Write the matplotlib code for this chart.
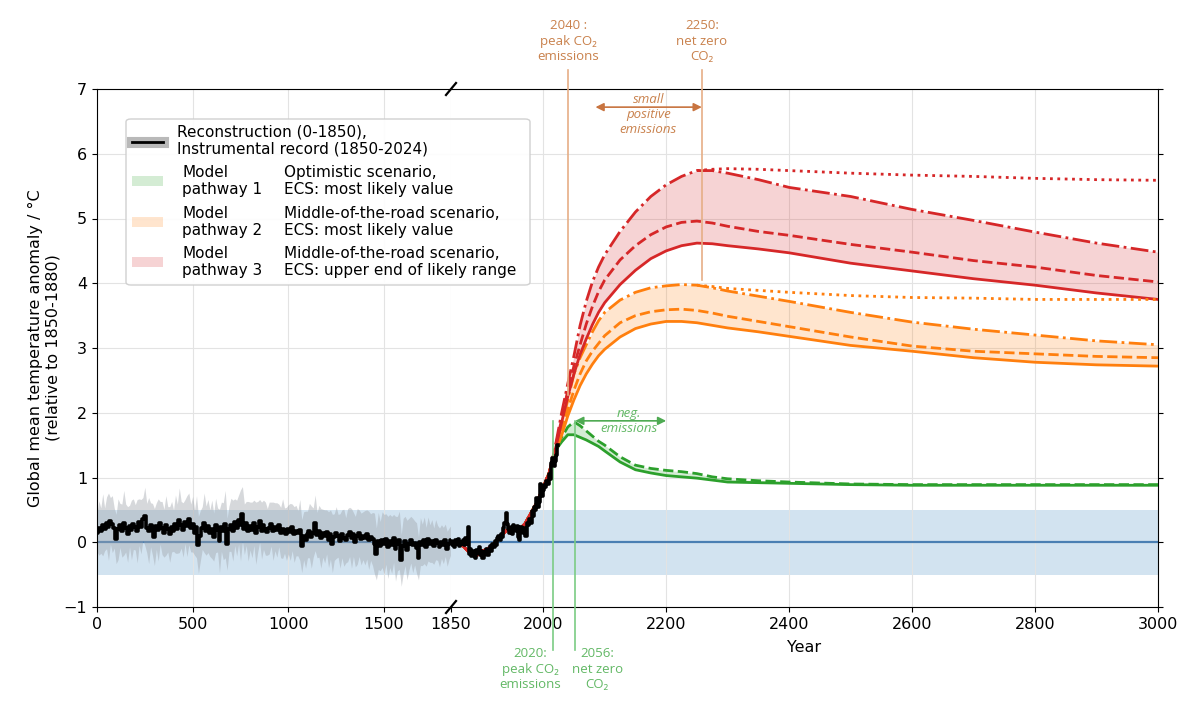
import numpy as np
import matplotlib.pyplot as plt
from matplotlib.patches import FancyBboxPatch, Rectangle
from matplotlib.lines import Line2D

# reconstruction 0-1850 (10-year steps) and its uncertainty half-width
recon_years = np.arange(0, 1851, 10)
recon = [0.15, 0.22, 0.18, 0.27, 0.20, 0.30, 0.24, 0.33, 0.28, 0.22,
         0.05, 0.20, 0.26, 0.18, 0.30, 0.22, 0.12, 0.25, 0.19, 0.28,
         0.23, 0.17, 0.31, 0.24, 0.36, 0.40, 0.22, 0.18, 0.27, 0.20,
         0.08, 0.25, 0.19, 0.30, 0.22, 0.14, 0.26, 0.20, 0.12, 0.24,
         0.18, 0.28, 0.21, 0.34, 0.27, 0.19, 0.32, 0.25, 0.36, 0.22,
         0.28, 0.15, 0.24, -0.04, 0.10, 0.22, 0.30, 0.18, 0.25, 0.14,
         0.20, 0.08, 0.26, 0.19, 0.02, 0.24, 0.17, 0.28, -0.03, 0.21,
         0.27, 0.18, 0.31, 0.22, 0.35, 0.26, 0.44, 0.20, 0.29, 0.17,
         0.25, 0.19, 0.30, 0.14, 0.24, 0.33, 0.18, 0.27, 0.21, 0.16,
         0.22, 0.28, 0.17, 0.24, 0.19, 0.26, 0.15, 0.21, 0.18, 0.13,
         0.20, 0.16, 0.23, 0.12, 0.18, 0.14, 0.19, -0.06, 0.10, 0.04,
         0.12, 0.18, 0.08, 0.15, 0.30, 0.11, 0.17, 0.06, 0.14, 0.09,
         0.16, 0.04, 0.12, -0.02, 0.08, 0.15, 0.10, 0.02, 0.13, 0.07,
         0.03, 0.11, 0.16, 0.06, 0.12, 0.01, 0.09, 0.14, 0.05, 0.10,
         0.07, 0.12, 0.03, 0.08, 0.05, -0.02, -0.18, 0.02, -0.06, 0.04,
         -0.03, 0.05, -0.08, 0.02, -0.04, 0.06, -0.10, -0.02, 0.03, -0.28,
         -0.06, 0.02, -0.12, -0.03, 0.04, -0.05, -0.01, -0.09, -0.25, 0.01,
         -0.04, 0.03, -0.07, 0.05, -0.02, 0.02, -0.06, 0.04, -0.01, -0.08,
         0.01, -0.05, 0.03, -0.10, -0.02, 0.04]
spread = [0.30, 0.42, 0.35, 0.48, 0.33, 0.40, 0.52, 0.36, 0.44, 0.31,
          0.38, 0.47, 0.34, 0.41, 0.50, 0.37, 0.43, 0.32, 0.46, 0.39,
          0.35, 0.49, 0.36, 0.42, 0.33, 0.45, 0.38, 0.51, 0.34, 0.40,
          0.44, 0.36, 0.48, 0.33, 0.41, 0.37, 0.46, 0.35, 0.43, 0.39,
          0.32, 0.45, 0.38, 0.50, 0.36, 0.42, 0.34, 0.47, 0.40, 0.37,
          0.43, 0.35, 0.48, 0.44, 0.39, 0.33, 0.46, 0.38, 0.41, 0.36,
          0.45, 0.37, 0.42, 0.34, 0.49, 0.38, 0.44, 0.52, 0.40, 0.35,
          0.41, 0.47, 0.36, 0.43, 0.38, 0.55, 0.42, 0.39, 0.34, 0.46,
          0.37, 0.43, 0.35, 0.48, 0.39, 0.33, 0.44, 0.38, 0.41, 0.36,
          0.40, 0.34, 0.45, 0.37, 0.42, 0.33, 0.39, 0.46, 0.35, 0.41,
          0.38, 0.44, 0.36, 0.43, 0.39, 0.35, 0.47, 0.41, 0.37, 0.44,
          0.36, 0.42, 0.48, 0.38, 0.43, 0.35, 0.40, 0.46, 0.37, 0.41,
          0.34, 0.43, 0.38, 0.45, 0.36, 0.40, 0.33, 0.42, 0.37, 0.44,
          0.35, 0.41, 0.38, 0.46, 0.34, 0.39, 0.43, 0.36, 0.40, 0.37,
          0.42, 0.38, 0.45, 0.36, 0.41, 0.47, 0.40, 0.44, 0.38, 0.43,
          0.46, 0.39, 0.48, 0.41, 0.44, 0.37, 0.50, 0.42, 0.45, 0.40,
          0.43, 0.38, 0.46, 0.40, 0.36, 0.42, 0.34, 0.39, 0.33, 0.37,
          0.32, 0.36, 0.30, 0.34, 0.29, 0.33, 0.28, 0.31, 0.27, 0.30,
          0.26, 0.28, 0.25, 0.27, 0.24, 0.22]

# instrumental record 1850-2024 (2-year steps)
inst_years = np.arange(1850, 2025, 2)
inst = [0.02, -0.05, 0.00, -0.08, 0.04, -0.02, 0.05, -0.06, 0.01, -0.03,
        0.03, -0.04, 0.06, -0.02, 0.24, -0.18, -0.10, -0.22, -0.14, -0.20,
        -0.25, -0.12, -0.16, -0.08, -0.20, -0.13, -0.24, -0.15, -0.18, -0.10,
        -0.20, -0.12, -0.06, -0.14, -0.02, -0.08, 0.02, -0.04, 0.06, 0.10,
        0.04, 0.12, 0.08, 0.22, 0.30, 0.45, 0.28, 0.20, 0.15, 0.24,
        0.12, 0.26, 0.22, 0.18, 0.25, 0.08, 0.04, 0.24, 0.18, 0.15,
        0.22, 0.10, 0.30, 0.26, 0.36, 0.30, 0.48, 0.40, 0.55, 0.50,
        0.68, 0.55, 0.62, 0.90, 0.72, 0.80, 0.88, 0.85, 0.95, 0.90,
        1.05, 0.98, 1.22, 1.30, 1.18, 1.25, 1.35, 1.50]

# model pathways
hist_years = [1850, 1860, 1870, 1880, 1890, 1900, 1910, 1920, 1930,
              1940, 1950, 1960, 1970, 1980, 1990, 2000, 2010]
hist_model = [0.0, -0.03, -0.06, -0.16, -0.22, -0.14, -0.10, -0.02, 0.08,
              0.18, 0.22, 0.20, 0.28, 0.45, 0.62, 0.85, 1.08]
fut_years = [2020, 2030, 2040, 2050, 2060, 2070, 2080, 2090, 2100, 2125,
             2150, 2175, 2200, 2225, 2250, 2275, 2300, 2350, 2400, 2500,
             2600, 2700, 2800, 2900, 3000]

p1_solid = [1.42, 1.55, 1.66, 1.66, 1.62, 1.58, 1.53, 1.48, 1.41, 1.24,
            1.12, 1.07, 1.03, 1.01, 0.99, 0.96, 0.93, 0.92, 0.91, 0.89,
            0.88, 0.88, 0.88, 0.88, 0.88]
p1_dash = [1.45, 1.62, 1.78, 1.86, 1.80, 1.72, 1.64, 1.56, 1.50, 1.32,
           1.19, 1.14, 1.11, 1.09, 1.06, 1.01, 0.98, 0.95, 0.93, 0.90,
           0.89, 0.89, 0.89, 0.89, 0.89]

p2_solid = [1.40, 1.65, 1.95, 2.20, 2.42, 2.60, 2.75, 2.88, 2.98, 3.17,
            3.30, 3.37, 3.41, 3.41, 3.39, 3.35, 3.31, 3.25, 3.18, 3.04,
            2.95, 2.85, 2.78, 2.74, 2.72]
p2_dash = [1.42, 1.72, 2.05, 2.35, 2.60, 2.80, 2.95, 3.07, 3.19, 3.39,
           3.50, 3.56, 3.59, 3.60, 3.58, 3.54, 3.49, 3.41, 3.33, 3.17,
           3.03, 2.95, 2.91, 2.87, 2.85]
p2_dashdot = [1.45, 1.80, 2.20, 2.60, 2.85, 3.05, 3.25, 3.42, 3.55, 3.74,
              3.86, 3.93, 3.96, 3.98, 3.97, 3.93, 3.88, 3.80, 3.72, 3.55,
              3.40, 3.29, 3.20, 3.11, 3.05]

p3_solid = [1.45, 1.85, 2.25, 2.60, 2.90, 3.14, 3.36, 3.55, 3.70, 3.98,
            4.20, 4.38, 4.50, 4.58, 4.62, 4.61, 4.58, 4.53, 4.47, 4.31,
            4.19, 4.07, 3.97, 3.85, 3.75]
p3_dash = [1.48, 1.90, 2.35, 2.72, 3.05, 3.37, 3.64, 3.87, 4.05, 4.36,
           4.58, 4.75, 4.87, 4.94, 4.96, 4.93, 4.88, 4.80, 4.74, 4.60,
           4.48, 4.35, 4.25, 4.12, 4.02]
p3_dashdot = [1.50, 2.00, 2.45, 2.88, 3.35, 3.72, 4.02, 4.25, 4.44, 4.80,
              5.10, 5.34, 5.52, 5.65, 5.74, 5.74, 5.70, 5.60, 5.48, 5.34,
              5.14, 4.97, 4.79, 4.62, 4.48]

dot_years = [2250, 2275, 2300, 2350, 2400, 2500, 2600, 2700, 2800, 2900, 3000]
p2_dotted = [3.97, 3.95, 3.92, 3.89, 3.86, 3.81, 3.78, 3.77, 3.75, 3.75, 3.75]
p3_dotted = [5.74, 5.76, 5.77, 5.76, 5.74, 5.70, 5.67, 5.65, 5.62, 5.60, 5.59]

W, H = 1200, 724
fig = plt.figure(figsize=(12, 7.24), dpi=100)
plt.rcParams['font.size'] = 11


def fx(x):
    return x / W


def fy(y):
    return 1 - y / H


ax1 = fig.add_axes([fx(97), fy(607), (451 - 97) / W, (607 - 89) / H])
ax2 = fig.add_axes([fx(451), fy(607), (1158 - 451) / W, (607 - 89) / H])

for ax, lim in [(ax1, (0, 1850)), (ax2, (1850, 3000))]:
    ax.set_xlim(*lim)
    ax.set_ylim(-1, 7)
    ax.fill_between(lim, -0.5, 0.5, color='tab:blue', alpha=0.2, lw=0, zorder=0)
    ax.axhline(0, color='#4a7fb3', lw=1.6, zorder=1)
    ax.grid(True, color='#e3e3e3', lw=0.8)
    ax.set_axisbelow(True)
    ax.tick_params(labelsize=11.5)

ax1.set_xticks([0, 500, 1000, 1500, 1850])
ax1.set_yticks(range(-1, 8))
ax1.spines['right'].set_visible(False)
ax2.set_xticks(range(2000, 3001, 200))
ax2.set_yticks(range(-1, 8))
ax2.spines['left'].set_visible(False)
ax2.tick_params(left=False, labelleft=False, right=True, labelright=False)
ax2.set_xlabel('Year', fontsize=11.5, labelpad=6)
ax1.set_ylabel('Global mean temperature anomaly / °C\n(relative to 1850-1880)',
               fontsize=11.5, labelpad=2)

# reconstruction
rec = np.array(recon)
spr = np.array(spread)
ax1.fill_between(recon_years, rec - spr, rec + spr, color='#9ea3aa', alpha=0.42, lw=0, zorder=2)
ax1.plot(recon_years, recon, color='black', lw=2.6, drawstyle='steps-mid', zorder=5)

# model pathways
def full(vals):
    return hist_years + fut_years, hist_model + vals


paths = [('tab:green', p1_solid, p1_dash, None),
         ('tab:orange', p2_solid, p2_dash, p2_dashdot),
         ('tab:red', p3_solid, p3_dash, p3_dashdot)]
for col, solid, dash, dashdot in paths:
    xs, ys = full(solid)
    top = dashdot if dashdot is not None else dash
    ax2.fill_between(xs, ys, full(top)[1], color=col, alpha=0.2, lw=0, zorder=2)
    ax2.plot(xs, ys, color=col, lw=2, zorder=3)
    ax2.plot(*full(dash), color=col, lw=2, ls='--', zorder=3)
    if dashdot is not None:
        ax2.plot(*full(dashdot), color=col, lw=2, ls='-.', zorder=3)
ax2.plot(dot_years, p2_dotted, color='tab:orange', lw=2, ls=':', zorder=3)
ax2.plot(dot_years, p3_dotted, color='tab:red', lw=2, ls=':', zorder=3)

ax2.plot(inst_years, inst, color='black', lw=2.6, drawstyle='steps-mid', zorder=5)

# axis break marks
for yy in (607, 89):
    fig.add_artist(Line2D([fx(446), fx(456)], [fy(yy + 6), fy(yy - 6)],
                          color='black', lw=1.6, transform=fig.transFigure))

# annotations
oc_txt = '#c9814c'
oc_line = '#e6ae86'
gc_txt = '#62b865'
gc_line = '#7ccc84'
afont = dict(family=['Open Sans', 'DejaVu Sans'], fontsize=9.5)

for yr, lo in [(2041, 2.27), (2258, 4.05)]:
    ax2.plot([yr, yr], [lo, 7.29], color=oc_line, lw=1.2, clip_on=False, zorder=4)
ax2.text(2041, 7.74, '2040 :\npeak CO₂\nemissions', color=oc_txt, ha='center',
         va='center', linespacing=1.25, **afont)
ax2.text(2258, 7.74, '2250:\nnet zero\nCO₂', color=oc_txt, ha='center',
         va='center', linespacing=1.25, **afont)
ax2.annotate('', xy=(2258, 6.72), xytext=(2085, 6.72),
             arrowprops=dict(arrowstyle='<|-|>', color='#c87440', lw=1.2,
                             shrinkA=0, shrinkB=0, mutation_scale=12))
ax2.text(2171, 6.6, 'small\npositive\nemissions', color=oc_txt, ha='center',
         va='center', style='italic', linespacing=1.2, **afont)

for yr in (2016, 2052):
    ax2.plot([yr, yr], [-1.67, 1.88], color=gc_line, lw=1.2, clip_on=False, zorder=4)
ax2.text(1979, -1.96, '2020:\npeak CO₂\nemissions', color=gc_txt, ha='center',
         va='center', linespacing=1.25, **afont)
ax2.text(2088, -1.96, '2056:\nnet zero\nCO₂', color=gc_txt, ha='center',
         va='center', linespacing=1.25, **afont)
ax2.annotate('', xy=(2200, 1.875), xytext=(2052, 1.875),
             arrowprops=dict(arrowstyle='<|-|>', color='#4eaa52', lw=1.2,
                             shrinkA=0, shrinkB=0, mutation_scale=12))
ax2.text(2140, 1.875, 'neg.\nemissions', color=gc_txt, ha='center',
         va='center', style='italic', linespacing=1.15, **afont)

# legend drawn by hand (two text columns)
box = FancyBboxPatch((fx(126), fy(285)), fx(530) - fx(126), fy(119) - fy(285),
                     boxstyle='round,pad=0,rounding_size=0.004',
                     transform=fig.transFigure, facecolor='white', alpha=0.9,
                     edgecolor='#cccccc', lw=1)
fig.add_artist(box)
fig.add_artist(Line2D([fx(132), fx(163)], [fy(142), fy(142)], color='#a8a8a8',
                      lw=8, alpha=0.8, transform=fig.transFigure))
fig.add_artist(Line2D([fx(132), fx(163)], [fy(142), fy(142)], color='black',
                      lw=2, transform=fig.transFigure))
fig.text(fx(177), fy(140.5), 'Reconstruction (0-1850),\nInstrumental record (1850-2024)',
         va='center', ha='left', fontsize=11, linespacing=1.2)

entries = [('tab:green', 'Model\npathway 1', 'Optimistic scenario,\nECS: most likely value', 181),
           ('tab:orange', 'Model\npathway 2', 'Middle-of-the-road scenario,\nECS: most likely value', 222),
           ('tab:red', 'Model\npathway 3', 'Middle-of-the-road scenario,\nECS: upper end of likely range', 262)]
for col, lab1, lab2, yc in entries:
    fig.add_artist(Rectangle((fx(132), fy(yc + 5)), fx(163) - fx(132), fy(yc - 5) - fy(yc + 5),
                             facecolor=col, alpha=0.2, lw=0, transform=fig.transFigure))
    fig.text(fx(182), fy(yc), lab1, va='center', ha='left', fontsize=11, linespacing=1.2)
    fig.text(fx(284), fy(yc), lab2, va='center', ha='left', fontsize=11, linespacing=1.2)

fig.savefig('out.png', dpi=100)
